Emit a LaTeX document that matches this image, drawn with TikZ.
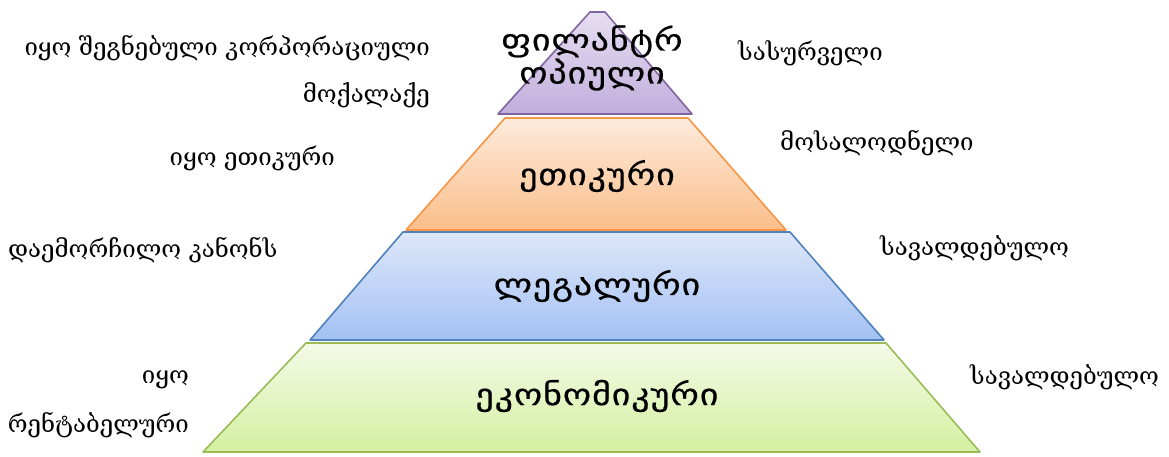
\documentclass[tikz,border=0pt]{standalone}
\usepackage{fontspec}
\setmainfont{DejaVu Serif}
\newfontfamily\layerfont[FakeStretch=1.2,LetterSpace=3,FakeBold=0.6]{DejaVu Sans}
\definecolor{violetline}{HTML}{8064A2}
\definecolor{violettop}{HTML}{E6DEF1}
\definecolor{violetbot}{HTML}{C1AEDC}
\definecolor{orangeline}{HTML}{F79646}
\definecolor{orangetop}{HTML}{FDEBDC}
\definecolor{orangebot}{HTML}{FBBE8A}
\definecolor{blueline}{HTML}{4F81BD}
\definecolor{bluetop}{HTML}{DDE7F9}
\definecolor{bluebot}{HTML}{A4C1F4}
\definecolor{greenline}{HTML}{9BBB59}
\definecolor{greentop}{HTML}{F4FAE8}
\definecolor{greenbot}{HTML}{D4F0A0}
\tikzset{
  layer/.style={line width=1.6pt, line join=round},
  layertext/.style={font=\layerfont\fontsize{30}{27}\selectfont, align=center, inner sep=0pt},
  side/.style={font=\fontsize{24}{30}\selectfont, inner sep=0pt}
}
\begin{document}
\begin{tikzpicture}[x=1pt,y=-1pt]
\useasboundingbox (0,0) rectangle (1169,456);
% layers of the pyramid
\shade[top color=violettop, bottom color=violetbot] (590,12) -- (605,12) -- (692,114) -- (498,114) -- cycle;
\draw[layer,violetline] (590,12) -- (605,12) -- (692,114) -- (498,114) -- cycle;
\shade[top color=orangetop, bottom color=orangebot] (505,118) -- (688,118) -- (786,230) -- (406,230) -- cycle;
\draw[layer,orangeline] (505,118) -- (688,118) -- (786,230) -- (406,230) -- cycle;
\shade[top color=bluetop, bottom color=bluebot] (403,232) -- (790,232) -- (884,340) -- (310,340) -- cycle;
\draw[layer,blueline] (403,232) -- (790,232) -- (884,340) -- (310,340) -- cycle;
\shade[top color=greentop, bottom color=greenbot] (306,343) -- (886,343) -- (980,452) -- (203,452) -- cycle;
\draw[layer,greenline] (306,343) -- (886,343) -- (980,452) -- (203,452) -- cycle;
% layer names
\node[layertext] (phil) at (592,58) {ფილანტრ\\ოპიული};
\node[layertext] (eth) at (597,176) {ეთიკური};
\node[layertext] (leg) at (597,286) {ლეგალური};
\node[layertext] (eco) at (597,396) {ეკონომიკური};
% left column
\node[side, anchor=east] (citizen) at (430,48) {იყო შეგნებული კორპორაციული};
\node[side, anchor=east] (citizenb) at (430,95) {მოქალაქე};
\node[side, anchor=east] (ethical) at (335,158) {იყო ეთიკური};
\node[side, anchor=west] (obey) at (8,250) {დაემორჩილო კანონს};
\node[side, anchor=east] (profit) at (189,380) {იყო};
\node[side, anchor=east] (profitb) at (189,425) {რენტაბელური};
% right column
\node[side, anchor=west] (desired) at (738,53) {სასურველი};
\node[side, anchor=west] (expected) at (780,143) {მოსალოდნელი};
\node[side, anchor=west] (required) at (880,248) {სავალდებულო};
\node[side, anchor=west] (requiredb) at (970,377) {სავალდებულო};
\end{tikzpicture}
\end{document}
